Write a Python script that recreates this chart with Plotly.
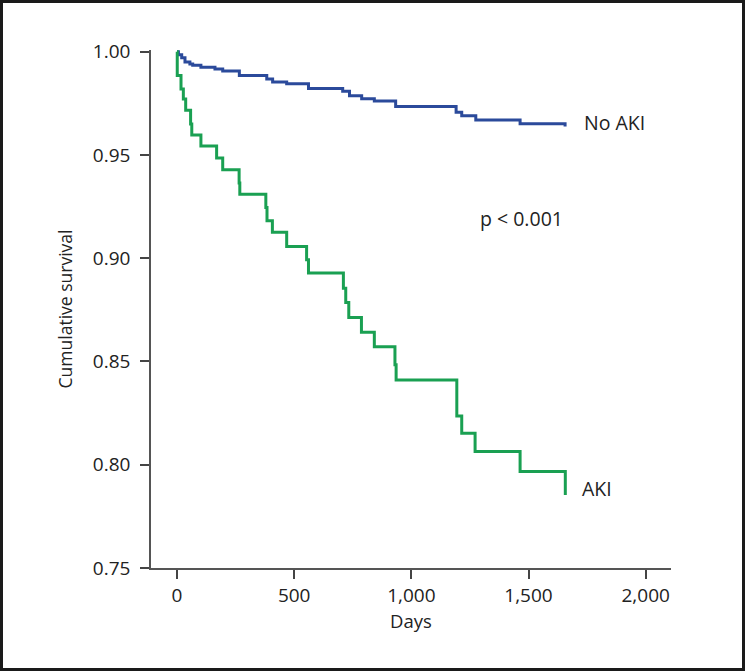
import plotly.graph_objects as go

# Kaplan-Meier step data
no_aki_days = [0, 6, 20, 34, 55, 67, 102, 162, 195, 266, 383, 408, 468, 561,
               707, 736, 788, 842, 933, 1191, 1215, 1275, 1464, 1656]
no_aki_surv = [1.0, 0.9985, 0.997, 0.995, 0.994, 0.9934, 0.9924, 0.9916, 0.9906,
               0.9884, 0.9868, 0.9853, 0.9845, 0.9822, 0.9808, 0.9787, 0.9772,
               0.9761, 0.9734, 0.9706, 0.969, 0.9669, 0.9651, 0.9638]

aki_days = [0, 1, 17, 27, 37, 58, 63, 102, 169, 195, 265, 268, 379, 384, 407,
            468, 553, 561, 710, 720, 733, 787, 842, 930, 935, 1194, 1215, 1272,
            1464, 1657]
aki_surv = [1.0, 0.9884, 0.9819, 0.9771, 0.9716, 0.965, 0.9596, 0.9543, 0.9485,
            0.9428, 0.9364, 0.931, 0.9246, 0.9181, 0.9126, 0.9057, 0.8992, 0.8928,
            0.8855, 0.8785, 0.8713, 0.8642, 0.8571, 0.8484, 0.841, 0.8236, 0.8153,
            0.8064, 0.7967, 0.7854]

x_ticks = [0, 500, 1000, 1500, 2000]
x_tick_labels = ["0", "500", "1,000", "1,500", "2,000"]
y_ticks = [0.75, 0.80, 0.85, 0.90, 0.95, 1.00]
y_tick_labels = ["0.75", "0.80", "0.85", "0.90", "0.95", "1.00"]

BLUE = "#2b4a9b"
GREEN = "#1aa052"
TXT = "#222222"
FONT = "Open Sans"

fig = go.Figure()
fig.add_trace(go.Scatter(x=no_aki_days, y=no_aki_surv, mode="lines",
                         line=dict(shape="hv", color=BLUE, width=3),
                         showlegend=False, hoverinfo="skip"))
fig.add_trace(go.Scatter(x=aki_days, y=aki_surv, mode="lines",
                         line=dict(shape="hv", color=GREEN, width=3),
                         showlegend=False, hoverinfo="skip"))

fig.add_annotation(x=1728, y=0.9656, text="No AKI", showarrow=False,
                   xanchor="left", yanchor="middle",
                   font=dict(family=FONT, size=19.5, color=TXT))
fig.add_annotation(x=1720, y=0.7883, text="AKI", showarrow=False,
                   xanchor="left", yanchor="middle",
                   font=dict(family=FONT, size=19.5, color=TXT))
fig.add_annotation(x=1285, y=0.919, text="p < 0.001", showarrow=False,
                   xanchor="left", yanchor="middle",
                   font=dict(family=FONT, size=19.5, color=TXT))

# outer frame
W, H = 745, 671
L, R, T, B = 151, 74, 50, 103
pw, ph = W - L - R, H - T - B
fig.add_shape(type="rect", xref="paper", yref="paper",
              x0=(1.5 - L) / pw, x1=1 + (R - 1.5) / pw,
              y0=-(B - 1.5) / ph, y1=1 + (T - 1.5) / ph,
              line=dict(color="#1a1a1a", width=3), fillcolor="rgba(0,0,0,0)",
              layer="above")

fig.update_layout(
    width=W, height=H,
    margin=dict(l=L, r=R, t=T, b=B),
    paper_bgcolor="white", plot_bgcolor="white",
    font=dict(family=FONT, size=19, color=TXT),
)

fig.update_xaxes(range=[-111, 2108], tickvals=x_ticks, ticktext=x_tick_labels,
                 showline=True, linecolor="#555555", linewidth=1.5,
                 ticks="outside", ticklen=9, tickwidth=1.5, tickcolor="#444444",
                 showgrid=False, zeroline=False,
                 tickfont=dict(family=FONT, size=19, color=TXT),
                 title=dict(text="Days", font=dict(family=FONT, size=18.5, color=TXT),
                            standoff=7))
fig.update_yaxes(range=[0.75, 1.0008], tickvals=y_ticks, ticktext=y_tick_labels,
                 showline=True, linecolor="#555555", linewidth=1.5,
                 ticks="outside", ticklen=9, tickwidth=1.5, tickcolor="#444444",
                 showgrid=False, zeroline=False, ticklabelstandoff=6,
                 tickfont=dict(family=FONT, size=19, color=TXT),
                 title=dict(text="Cumulative survival",
                            font=dict(family=FONT, size=17.5, color=TXT), standoff=16))

fig.write_html("out.html",
               config={"displayModeBar": False},
               post_script="document.body.style.margin='0';"
                           "document.body.style.padding='0';")
